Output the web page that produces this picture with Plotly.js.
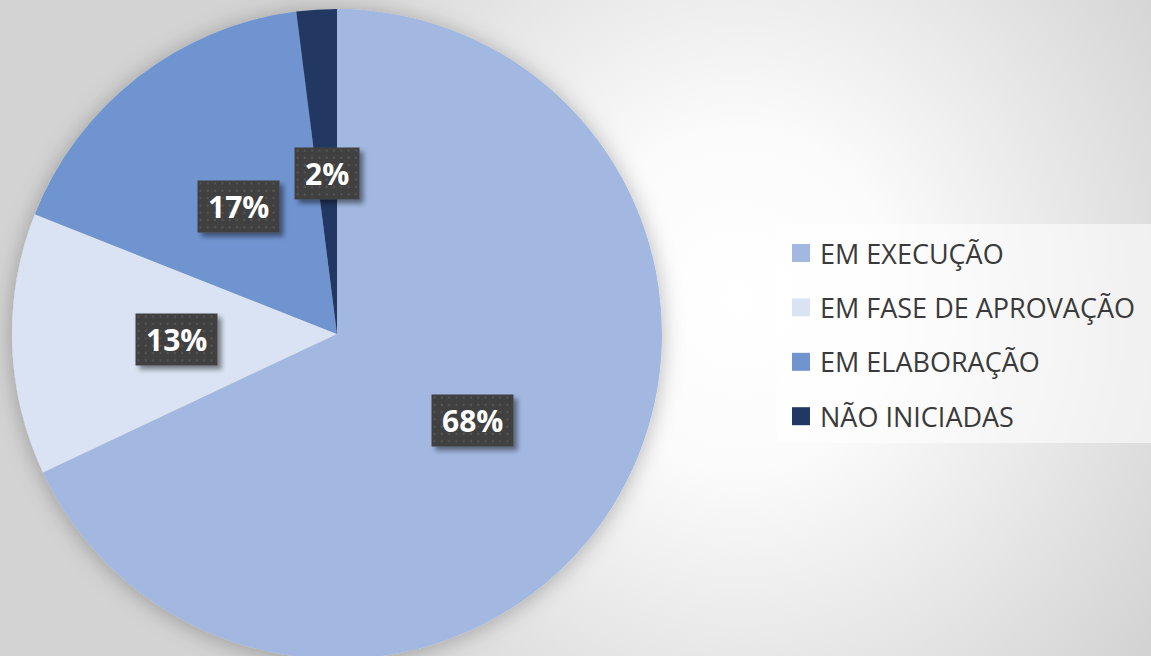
<!DOCTYPE html>
<html>
<head>
<meta charset="utf-8">
<script src="https://cdn.plot.ly/plotly-3.0.1.min.js"></script>
<style>
  html, body { margin: 0; padding: 0; overflow: hidden; width: 1151px; height: 656px; }
  body { background: radial-gradient(ellipse 520px 560px at 740px 300px, #ffffff 0%, #fbfbfb 30%, #d3d3d3 100%); }
  #chart { width: 1151px; height: 662px; }
  .pielayer .trace { filter: url(#pieShadow); }
  .annotation[data-index="0"] rect.bg,
  .annotation[data-index="1"] rect.bg,
  .annotation[data-index="2"] rect.bg,
  .annotation[data-index="3"] rect.bg { fill: url(#dots) !important; filter: url(#boxShadow); }
</style>
</head>
<body>
<svg width="0" height="0" style="position:absolute">
  <defs>
    <filter id="pieShadow" x="-20%" y="-20%" width="140%" height="140%">
      <feGaussianBlur in="SourceAlpha" stdDeviation="11"/>
      <feOffset dx="0" dy="2" result="blur"/>
      <feFlood flood-color="#000" flood-opacity="0.28"/>
      <feComposite in2="blur" operator="in"/>
      <feMerge><feMergeNode/><feMergeNode in="SourceGraphic"/></feMerge>
    </filter>
    <filter id="boxShadow" x="-30%" y="-30%" width="160%" height="160%">
      <feGaussianBlur in="SourceAlpha" stdDeviation="2.5"/>
      <feOffset dx="4" dy="4" result="blur"/>
      <feFlood flood-color="#000" flood-opacity="0.45"/>
      <feComposite in2="blur" operator="in"/>
      <feMerge><feMergeNode/><feMergeNode in="SourceGraphic"/></feMerge>
    </filter>
    <pattern id="dots" width="7.3" height="7.3" patternUnits="userSpaceOnUse">
      <rect width="7.3" height="7.3" fill="#404040"/>
      <rect x="2.5" y="2.5" width="2" height="2" fill="#575757"/>
    </pattern>
  </defs>
</svg>
<div id="chart"></div>
<script>
// ---- data ----
var categories = ["EM EXECUÇÃO", "EM FASE DE APROVAÇÃO", "EM ELABORAÇÃO", "NÃO INICIADAS"];
var values = [68, 13, 17, 2];
var colors = ["#A2B8E1", "#DAE3F3", "#7094CF", "#203864"];

// ---- geometry ----
var W = 1151, H = 662;
var pieLeft = 12, pieRight = 662, pieTop = 9, pieBottom = 659;
var cx = (pieLeft + pieRight) / 2, cy = (pieTop + pieBottom) / 2;
var R = Math.min(pieRight - pieLeft, pieBottom - pieTop) / 2;
var labelRadius = 0.495 * R;

var total = values.reduce(function (a, b) { return a + b; }, 0);
var annotations = [];
var cum = 0;
values.forEach(function (v, i) {
  var theta = (cum + v / 2) / total * 2 * Math.PI;
  cum += v;
  var px = cx + labelRadius * Math.sin(theta);
  var py = cy - labelRadius * Math.cos(theta);
  annotations.push({
    xref: "paper", yref: "paper",
    x: px / W, y: 1 - py / H,
    xanchor: "center", yanchor: "middle",
    text: "<b>" + Math.round(v / total * 100) + "%</b>",
    showarrow: false,
    font: { family: "Open Sans, sans-serif", size: 30, color: "#ffffff" },
    bgcolor: "#404040",
    borderpad: 10,
    height: 31
  });
});

// ---- manual legend ----
var legLeft = 777, legTop = 224, legBottom = 443;
var rowY0 = 253, rowGap = 54.4;
var sq = 18, sqX = 792, textX = 818;
var shapes = [{
  type: "rect", xref: "paper", yref: "paper", layer: "below",
  x0: legLeft / W, x1: 1.01, y0: 1 - legBottom / H, y1: 1 - legTop / H,
  fillcolor: "rgba(255,255,255,0.55)", line: { width: 0 }
}];
categories.forEach(function (c, i) {
  var yc = rowY0 + i * rowGap;
  shapes.push({
    type: "rect", xref: "paper", yref: "paper",
    x0: sqX / W, x1: (sqX + sq) / W,
    y0: 1 - (yc + sq / 2) / H, y1: 1 - (yc - sq / 2) / H,
    fillcolor: colors[i], line: { width: 0 }
  });
  annotations.push({
    xref: "paper", yref: "paper",
    x: textX / W, y: 1 - yc / H,
    xanchor: "left", yanchor: "middle",
    text: c, showarrow: false,
    font: { family: "Open Sans, sans-serif", size: 27, color: "#3a3a3a" }
  });
});

var trace = {
  type: "pie",
  labels: categories,
  values: values,
  sort: false,
  direction: "clockwise",
  rotation: 0,
  marker: { colors: colors, line: { width: 0 } },
  textinfo: "none",
  hoverinfo: "none",
  showlegend: false,
  domain: { x: [pieLeft / W, pieRight / W], y: [1 - pieBottom / H, 1 - pieTop / H] }
};

var layout = {
  width: W, height: H,
  margin: { l: 0, r: 0, t: 0, b: 0, pad: 0 },
  paper_bgcolor: "rgba(0,0,0,0)",
  plot_bgcolor: "rgba(0,0,0,0)",
  showlegend: false,
  annotations: annotations,
  shapes: shapes
};

Plotly.newPlot("chart", [trace], layout, { staticPlot: true, displayModeBar: false });
</script>
</body>
</html>
